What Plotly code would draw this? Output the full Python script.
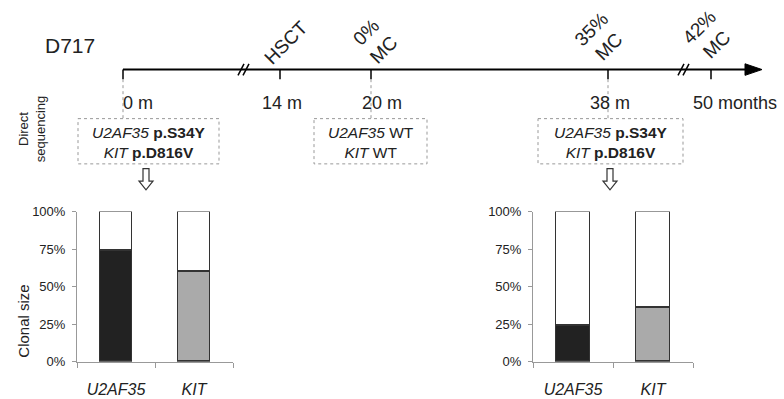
import plotly.graph_objects as go

W, H = 784, 399

# ---- data ----
genes = ["U2AF35", "KIT"]
clone_0m = [0.74, 0.60]      # clonal size at 0 m
clone_38m = [0.24, 0.36]     # clonal size at 38 m
gene_colors = ["#222222", "#aaaaaa"]
yticks = [0, 0.25, 0.5, 0.75, 1.0]
ytick_labels = ["0%", "25%", "50%", "75%", "100%"]

time_labels = ["0 m", "14 m", "20 m", "38 m", "50 months"]
events = ["", "HSCT", "0%<br>MC", "35%<br>MC", "42%<br>MC"]
seq_results = {
    "0 m": "<i>U2AF35</i> <b>p.S34Y</b><br><i>KIT</i> <b>p.D816V</b>",
    "20 m": "<i>U2AF35</i> WT<br><i>KIT</i> WT",
    "38 m": "<i>U2AF35</i> <b>p.S34Y</b><br><i>KIT</i> <b>p.D816V</b>",
}

# ---- layout positions (pixels) ----
tl_y = 65
tl_x = [123, 280, 371, 608, 711]
label_x = [138, 282, 382, 610, 735]
event_pos = [None, (286, 37), (375, 35), (600, 32), (708, 30)]
box_pos = {"0 m": (78, 219, 123), "20 m": (314, 427, 371), "38 m": (538, 683, 608)}
arrow_x = {"0 m": 146, "38 m": 610}

def px(x):
    return x / W

def py(y):
    return 1 - y / H

FONT = "Liberation Sans, Arial, sans-serif"
TXT = "#222222"

fig = go.Figure()

def add_bars(vals, xa, ya):
    fig.add_trace(go.Bar(x=genes, y=vals, marker=dict(color=gene_colors, line=dict(color="#333", width=1.2)),
                         width=0.42, xaxis=xa, yaxis=ya, showlegend=False, cliponaxis=False))
    fig.add_trace(go.Bar(x=genes, y=[1 - v for v in vals], marker=dict(color="white", line=dict(color="#333", width=1.2)),
                         width=0.42, xaxis=xa, yaxis=ya, showlegend=False, cliponaxis=False))

add_bars(clone_0m, "x", "y")
add_bars(clone_38m, "x2", "y2")

xa_common = dict(type="category", range=[-0.5, 1.5], tickson="boundaries", ticks="outside", ticklen=5,
                 tickcolor="#999", showline=True, linecolor="#999", linewidth=1, showgrid=False,
                 tickfont=dict(family=FONT, size=16, color=TXT, style="italic"), ticklabelstandoff=13,
                 fixedrange=True)
ya_common = dict(range=[0, 1], tickvals=yticks, ticktext=ytick_labels, ticks="outside", ticklen=4,
                 tickcolor="#999", showline=True, linecolor="#999", linewidth=1, showgrid=False, zeroline=False,
                 tickfont=dict(family=FONT, size=13, color=TXT), ticklabelstandoff=4, fixedrange=True)

fig.update_layout(
    width=W, height=H, margin=dict(l=0, r=0, t=0, b=0),
    paper_bgcolor="white", plot_bgcolor="white", barmode="stack", bargap=0,
    xaxis=dict(domain=[px(77), px(233)], anchor="y", **xa_common),
    yaxis=dict(domain=[py(368.5), py(212.5)], anchor="x", **ya_common),
    xaxis2=dict(domain=[px(533), px(693)], anchor="y2", **xa_common),
    yaxis2=dict(domain=[py(368.5), py(212.5)], anchor="x2", **ya_common),
)

shapes = []
ann = []

# timeline main line
shapes.append(dict(type="line", xref="paper", yref="paper", x0=px(tl_x[0]), y0=py(tl_y), x1=px(748), y1=py(tl_y),
                   line=dict(color="black", width=2)))
# arrow head
shapes.append(dict(type="path", xref="paper", yref="paper",
                   path=f"M {px(745)} {py(59)} L {px(762)} {py(tl_y)} L {px(745)} {py(71)} Z",
                   fillcolor="black", line=dict(color="black", width=1)))
# break marks
for bx in (241, 681):
    for d in (0, 5):
        shapes.append(dict(type="line", xref="paper", yref="paper", x0=px(bx + d - 3), y0=py(71), x1=px(bx + d + 3), y1=py(59),
                           line=dict(color="black", width=1.5)))
# ticks and labels
for i, x in enumerate(tl_x):
    shapes.append(dict(type="line", xref="paper", yref="paper", x0=px(x), y0=py(tl_y), x1=px(x), y1=py(75),
                       line=dict(color="black", width=1.5)))
    ann.append(dict(x=px(label_x[i]), y=py(100), xref="paper", yref="paper", text=time_labels[i], showarrow=False,
                    font=dict(family=FONT, size=18, color=TXT), xanchor="center", yanchor="middle"))
    if events[i]:
        ex, ey = event_pos[i]
        ann.append(dict(x=px(ex), y=py(ey), xref="paper", yref="paper", text=events[i], showarrow=False, textangle=-45,
                        font=dict(family=FONT, size=19, color=TXT), xanchor="center", yanchor="middle"))

# sequencing boxes
for key, txt in seq_results.items():
    x0, x1, lx = box_pos[key]
    shapes.append(dict(type="line", xref="paper", yref="paper", x0=px(lx), y0=py(75), x1=px(lx), y1=py(116),
                       line=dict(color="#999", width=1, dash="dot")))
    shapes.append(dict(type="rect", xref="paper", yref="paper", x0=px(x0), y0=py(116), x1=px(x1), y1=py(163),
                       line=dict(color="#999", width=1, dash="dot"), fillcolor="rgba(0,0,0,0)"))
    ann.append(dict(x=px((x0 + x1) / 2), y=py(141), xref="paper", yref="paper", text=txt, showarrow=False,
                    font=dict(family=FONT, size=15.5, color=TXT), xanchor="center", yanchor="middle"))

# hollow arrows
for key, ax in arrow_x.items():
    p = (f"M {px(ax-3)} {py(168)} L {px(ax+3)} {py(168)} L {px(ax+3)} {py(181)} L {px(ax+7)} {py(181)} "
         f"L {px(ax)} {py(190)} L {px(ax-7)} {py(181)} L {px(ax-3)} {py(181)} Z")
    shapes.append(dict(type="path", xref="paper", yref="paper", path=p, fillcolor="white",
                       line=dict(color="#333", width=1.2)))

# titles
ann.append(dict(x=px(43), y=py(40), xref="paper", yref="paper", text="D717", showarrow=False,
                font=dict(family=FONT, size=21, color=TXT), xanchor="left", yanchor="middle"))
ann.append(dict(x=px(24), y=py(327), xref="paper", yref="paper", text="Clonal size", showarrow=False, textangle=-90,
                font=dict(family=FONT, size=15, color=TXT), xanchor="center", yanchor="middle"))
ann.append(dict(x=px(32), y=py(126), xref="paper", yref="paper", text="Direct<br>sequencing", showarrow=False,
                textangle=-90, font=dict(family=FONT, size=13, color=TXT), xanchor="center", yanchor="middle"))

fig.update_layout(shapes=shapes, annotations=ann)
fig.write_html("out.html", config={"displayModeBar": False},
               post_script="document.body.style.margin='0';")
